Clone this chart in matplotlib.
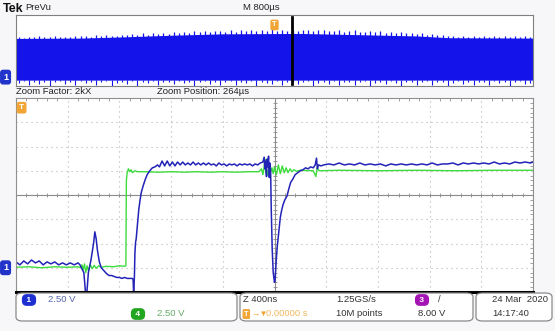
import numpy as np
import matplotlib.pyplot as plt
import matplotlib.transforms as mtransforms
from matplotlib.patches import FancyBboxPatch

plt.rcParams['font.family'] = ['Liberation Sans', 'DejaVu Sans']

# zoom window, time in ns, volts (2.50 V/div both channels)
ch1_points = [(-2000, 0.6), (-1970, 0.3), (-1940, 0.7), (-1910, 0.4), (-1880, 0.8), (-1850, 0.5),
              (-1820, 0.7), (-1790, 0.3), (-1760, 0.6), (-1730, 0.4), (-1700, 0.6), (-1670, 0.3),
              (-1640, 0.5), (-1610, 0.3), (-1580, 0.5), (-1550, 0.3), (-1520, 0.5), (-1505, 0.3),
              (-1475, -0.5), (-1462, -2.6), (-1452, -2.6), (-1440, -0.5), (-1420, 0.8), (-1400, 2.5),
              (-1390, 3.7), (-1380, 3.0), (-1370, 1.8), (-1355, 0.6), (-1340, 0.0), (-1320, -0.3),
              (-1300, -0.6), (-1280, -0.8), (-1260, -0.8), (-1240, -0.9), (-1220, -1.0), (-1200, -1.0),
              (-1180, -1.1), (-1160, -1.0), (-1140, -1.1), (-1120, -1.1), (-1100, -1.1), (-1094, -1.2),
              (-1090, -2.6), (-1084, -1.0), (-1080, 1.5), (-1075, 2.6), (-1070, 3.0), (-1060, 4.5),
              (-1050, 6.0), (-1040, 7.0), (-1030, 7.8), (-1015, 8.5), (-1000, 9.1), (-985, 9.6),
              (-965, 10.0), (-945, 10.3), (-925, 10.4), (-905, 10.6), (-890, 10.4), (-870, 11.0),
              (-850, 10.5), (-830, 11.0), (-810, 10.5), (-790, 10.9), (-770, 10.5), (-750, 10.9),
              (-730, 10.6), (-710, 10.9), (-690, 10.6), (-670, 10.8), (-650, 10.6), (-630, 10.9),
              (-610, 10.6), (-590, 10.8), (-570, 10.6), (-550, 10.8), (-530, 10.6), (-510, 10.8),
              (-490, 10.6), (-470, 10.7), (-450, 10.5), (-430, 10.8), (-410, 10.6), (-390, 10.7),
              (-370, 10.5), (-350, 10.7), (-330, 10.6), (-310, 10.7), (-290, 10.5), (-270, 10.7),
              (-250, 10.6), (-230, 10.7), (-210, 10.6), (-190, 10.7), (-170, 10.5), (-150, 10.7),
              (-130, 10.6), (-110, 10.8), (-90, 10.9), (-80, 11.4), (-75, 10.2), (-70, 11.0),
              (-62, 9.4), (-58, 11.2), (-52, 10.4), (-46, 11.5), (-40, 9.3), (-36, 10.8),
              (-30, 10.0), (-25, 6.0), (-18, 2.0), (-10, -0.5), (0, -1.5), (5, -1.2), (12, 0.5),
              (20, 2.0), (27, 2.9), (35, 4.0), (45, 5.2), (55, 5.9), (66, 6.5), (80, 7.0), (97, 7.4),
              (110, 8.1), (125, 8.8), (140, 9.1), (160, 9.6), (180, 9.8), (200, 10.0), (220, 10.1),
              (240, 10.3), (260, 10.2), (280, 10.4), (300, 10.3), (315, 10.6), (325, 11.3),
              (332, 10.2), (340, 10.6), (360, 10.5), (380, 10.6), (420, 10.7), (460, 10.6),
              (500, 10.8), (540, 10.6), (580, 10.7), (620, 10.6), (660, 10.8), (700, 10.6),
              (740, 10.7), (780, 10.6), (820, 10.7), (860, 10.5), (900, 10.7), (940, 10.6),
              (980, 10.7), (1020, 10.6), (1060, 10.7), (1100, 10.6), (1140, 10.7), (1180, 10.6),
              (1220, 10.8), (1260, 10.6), (1300, 10.7), (1340, 10.7), (1380, 10.8), (1420, 10.6),
              (1460, 10.8), (1500, 10.7), (1540, 10.8), (1580, 10.7), (1620, 10.8), (1660, 10.7),
              (1700, 10.9), (1740, 10.7), (1780, 10.8), (1820, 10.7), (1860, 10.9), (1900, 10.8),
              (1940, 10.9), (1980, 10.8), (2000, 10.9)]

ch4_points = [(-2000, 0.05), (-1900, 0.1), (-1800, 0.0), (-1700, 0.1), (-1600, 0.05), (-1520, 0.1),
              (-1500, 0.0), (-1490, 0.3), (-1480, -0.2), (-1470, 0.4), (-1460, -0.5), (-1450, 0.2),
              (-1440, -0.3), (-1425, 0.3), (-1410, -0.1), (-1395, 0.25), (-1380, -0.05), (-1360, 0.2),
              (-1340, 0.05), (-1300, 0.15), (-1250, 0.1), (-1200, 0.2), (-1160, 0.15), (-1150, 0.2),
              (-1146, 9.0), (-1140, 9.8), (-1130, 10.2), (-1120, 9.9), (-1110, 10.1), (-1100, 9.8),
              (-1080, 10.0), (-1060, 9.9), (-1000, 9.9), (-900, 9.85), (-800, 9.9), (-700, 9.85),
              (-600, 9.9), (-500, 9.85), (-400, 9.9), (-300, 9.85), (-200, 9.9), (-120, 9.9),
              (-100, 10.2), (-90, 9.6), (-80, 10.4), (-74, 11.2), (-68, 9.8), (-60, 10.1), (-50, 9.5),
              (-40, 10.6), (-30, 9.9), (-20, 10.3), (-10, 9.7), (0, 10.4), (15, 9.6), (30, 10.6),
              (45, 9.7), (60, 10.5), (75, 9.8), (90, 10.3), (105, 9.8), (120, 10.2), (135, 9.9),
              (150, 10.1), (170, 9.95), (200, 10.05), (300, 10.0), (320, 9.4), (330, 10.3),
              (345, 10.0), (500, 10.05), (800, 10.0), (1100, 10.05), (1400, 10.0), (1700, 10.05),
              (2000, 10.05)]

# PreVu record, time in ms (800 us/div)
prevu_env_t = [-4, -3, -2.4, -1.6, -0.8, 0.4, 1.2, 2.2, 2.7, 4]
prevu_env_v = [10.9, 11.0, 11.3, 11.8, 12.2, 12.3, 12.0, 11.6, 11.1, 11.0]
prevu_floor = -0.85
prevu_spike_top = [11.3, 11.1, 11.4, 11.2, 11.5, 11.3, 11.2, 11.6, 11.3, 11.4, 11.2, 11.6, 11.5,
                   11.6, 11.4, 11.8, 11.5, 11.9, 11.6, 11.7, 12.0,
                   11.8, 12.2, 11.9, 12.3, 12.0, 12.4, 12.1, 12.5, 12.2, 12.6,
                   12.5, 12.8, 12.4, 12.9, 12.6, 13.0, 12.7, 12.9, 13.1, 12.8,
                   13.2, 12.8, 13.3, 12.9, 13.4, 13.0, 13.2, 12.9, 13.5, 13.0, 13.3, 12.9, 13.4, 13.1, 13.2,
                   13.3, 12.9, 13.2, 13.4, 12.9, 13.1, 13.3, 12.8, 13.0, 13.2,
                   12.8, 12.6, 13.0, 12.7, 12.9, 12.5, 12.8, 12.4, 12.7, 12.3, 12.5, 12.2,
                   12.3, 12.0, 12.2, 11.8, 12.0, 11.6,
                   11.6, 11.4, 11.7, 11.3, 11.5, 11.4, 11.6, 11.3, 11.5, 11.2, 11.6, 11.4, 11.5, 11.3, 11.6, 11.4]
prevu_spike_bottom = [-1.6, -1.2, -2.2, -1.4, -1.9, -1.3, -2.5, -1.5, -1.2, -2.0,
                      -1.4, -2.3, -1.2, -1.7, -1.3, -2.1, -1.5, -1.2, -2.4, -1.6,
                      -1.3, -1.9, -1.2, -2.5, -1.4, -1.6, -1.2, -2.2, -1.5, -1.3,
                      -2.0, -1.2, -1.6, -1.3, -2.4, -1.5, -1.2, -1.8, -1.3, -2.3,
                      -1.5, -1.2, -2.1, -1.4, -1.7, -1.2, -2.5, -1.3, -1.6, -1.9,
                      -1.2, -2.2, -1.4, -1.3, -2.0, -1.5, -1.2, -2.4, -1.6, -1.3,
                      -1.8, -1.2, -2.3, -1.5, -1.3, -2.1, -1.4, -1.2, -2.5, -1.6,
                      -1.3, -2.0, -1.2, -1.7, -2.4, -1.4, -1.3, -2.2, -1.5, -1.2,
                      -2.1, -1.4, -1.3, -2.5, -1.6, -1.2, -1.9, -1.4, -2.3, -1.3,
                      -1.5, -2.2, -1.2, -1.6, -1.3, -2.4, -1.5, -1.2, -2.0, -1.7]
zoom_pos_ms = 0.264
trig_level = 16.5

BLUE = '#2323b8'
PREVU_BLUE = '#1414ea'
GREEN = '#3ddc3d'
ORANGE = '#f0a535'
GRID = '#b4b4b4'

W, H = 555, 331
fig = plt.figure(figsize=(W / 100, H / 100), dpi=100, facecolor='#f7f7f9')

def fx(px):
    return px / W

def fy(py):
    return 1 - py / H

# ---- PreVu strip ----
axp = fig.add_axes([fx(16), fy(86), fx(517), 71 / H])
axp.set_xlim(-4, 4)
axp.set_ylim(-2.5, 17.5)
axp.fill_between(prevu_env_t, prevu_floor, prevu_env_v, color=PREVU_BLUE, lw=0)
sx = np.linspace(-3.96, 3.96, len(prevu_spike_top))
axp.vlines(sx, 5, prevu_spike_top, color=PREVU_BLUE, lw=0.9)
axp.vlines(sx, prevu_spike_bottom, prevu_floor + 0.1, color=PREVU_BLUE, lw=0.8)
axp.axvline(zoom_pos_ms, ymin=0.03, ymax=0.97, color='black', lw=2)
axp.set_xticks([]); axp.set_yticks([])
for s in axp.spines.values():
    s.set_color('#808080'); s.set_linewidth(0.8)
axp.text(0, 0.86, 'T', transform=mtransforms.blended_transform_factory(axp.transData, axp.transAxes),
         ha='center', va='center', fontsize=5.5, color='white', fontweight='bold',
         bbox=dict(boxstyle='round,pad=0.15', fc=ORANGE, ec=ORANGE))
trp = mtransforms.blended_transform_factory(fig.transFigure, axp.transData)
axp.text(fx(3), 0, '1', transform=trp, ha='left', va='center', fontsize=6.5, color='white',
         fontweight='bold', bbox=dict(boxstyle='round,pad=0.25', fc='#2233cc', ec='#2233cc'))

# ---- zoom window ----
ax = fig.add_axes([fx(16), fy(292), fx(517), 194 / H])
ax.set_xlim(-2000, 2000)
ax.set_ylim(-2.5, 17.5)
ax.set_xticks(np.arange(-2000, 2001, 400))
ax.set_yticks(np.arange(-2.5, 17.6, 2.5))
ax.set_xticks(np.arange(-2000, 2001, 80), minor=True)
ax.set_yticks(np.arange(-2.5, 17.6, 0.5), minor=True)
ax.tick_params(which='both', direction='in', top=True, right=True, bottom=False, left=False,
               labelbottom=False, labelleft=False, color='#909090', width=0.6)
ax.tick_params(which='major', length=0)
ax.tick_params(which='minor', length=2.5)
ax.grid(True, which='major', color=GRID, lw=0.8, ls=(0, (1, 3.5)))
ax.axhline(7.5, color='#8c8c8c', lw=0.8)
ax.axvline(0, color='#8c8c8c', lw=0.8)
ax.plot(np.arange(-2000, 2001, 80), np.full(51, 7.5), ls='none', marker='|', ms=3.5,
        color='#8c8c8c', mew=0.6)
ax.plot(np.zeros(41), np.arange(-2.5, 17.6, 0.5), ls='none', marker='_', ms=3.5,
        color='#8c8c8c', mew=0.6)
for k, s in ax.spines.items():
    s.set_color('#909090'); s.set_linewidth(0.8)
ax.spines['bottom'].set_color('black')
ax.spines['bottom'].set_linewidth(2.2)

t4, v4 = zip(*ch4_points)
t1, v1 = zip(*ch1_points)
ax.plot(t4, v4, color=GREEN, lw=1.0)
ax.plot(t1, v1, color=BLUE, lw=1.1)

trm = mtransforms.blended_transform_factory(fig.transFigure, ax.transData)
ax.text(fx(3), 0, '1', transform=trm, ha='left', va='center', fontsize=6.5, color='white',
        fontweight='bold', bbox=dict(boxstyle='round,pad=0.25', fc='#2233cc', ec='#2233cc'))
ax.text(fx(19), trig_level, 'T', transform=trm, ha='left', va='center', fontsize=6,
        color='white', fontweight='bold',
        bbox=dict(boxstyle='round,pad=0.2', fc=ORANGE, ec=ORANGE))

# ---- header text ----
fig.text(fx(3), fy(9), 'Tek', fontsize=9, fontweight='bold', va='center', color='#111111')
fig.text(fx(25), fy(8), 'PreVu', fontsize=6.8, va='center', color='#222222')
fig.text(fx(280), fy(8), 'M 800µs', fontsize=6.8, va='center', ha='right', color='#222222')
fig.text(fx(16), fy(92), 'Zoom Factor: 2kX', fontsize=6.8, va='center', color='#222222')
fig.text(fx(157), fy(92), 'Zoom Position: 264µs', fontsize=6.8, va='center', color='#222222')

# ---- readout boxes ----
for x0, x1 in [(16, 237), (240, 473), (476, 552)]:
    fig.patches.append(FancyBboxPatch((fx(x0), fy(321)), fx(x1 - x0), 28 / H,
                                      boxstyle='round,pad=0,rounding_size=0.012',
                                      transform=fig.transFigure, fc='white', ec='#8a8a8a', lw=0.9))

def badge(px, py, label, color):
    fig.text(fx(px), fy(py), label, ha='center', va='center', fontsize=6, color='white',
             fontweight='bold', bbox=dict(boxstyle='round,pad=0.2,rounding_size=0.5', fc=color, ec=color))

y1, y2 = 300, 314
badge(29, y1, ' 1 ', '#1d2fd0')
fig.text(fx(48), fy(y1), '2.50 V', fontsize=6.8, va='center', color='#5566aa')
badge(138, y2, ' 4 ', '#22a622')
fig.text(fx(157), fy(y2), '2.50 V', fontsize=6.8, va='center', color='#66aa66')
fig.text(fx(243), fy(y1), 'Z 400ns', fontsize=6.8, va='center', color='#333333')
fig.text(fx(244), fy(y2), 'T', fontsize=5.5, va='center', color='white', fontweight='bold',
         bbox=dict(boxstyle='round,pad=0.1', fc=ORANGE, ec=ORANGE))
fig.text(fx(251), fy(y2), '→▼', fontsize=6, va='center', color=ORANGE)
fig.text(fx(266), fy(y2), '0.00000 s', fontsize=6.8, va='center', color='#f2b860')
fig.text(fx(336), fy(y1), '1.25GS/s', fontsize=6.8, va='center', color='#333333')
fig.text(fx(336), fy(y2), '10M points', fontsize=6.8, va='center', color='#333333')
badge(422, y1, ' 3 ', '#a414b4')
fig.text(fx(438), fy(y1), '/', fontsize=6.8, va='center', color='#333333')
fig.text(fx(418), fy(y2), '8.00 V', fontsize=6.8, va='center', color='#333333')
fig.text(fx(492), fy(y1), '24 Mar  2020', fontsize=6.8, va='center', color='#333333')
fig.text(fx(492), fy(y2), '14:17:40', fontsize=6.8, va='center', color='#333333')

fig.savefig('out.png', dpi=100, facecolor=fig.get_facecolor())
